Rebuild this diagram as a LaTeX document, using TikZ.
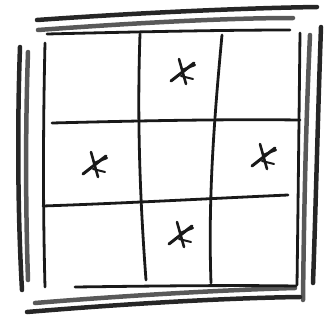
\documentclass[tikz,border=0pt]{standalone}
\usepackage{tikz}

\tikzset{
  pen/.style={line width=2.8pt, line cap=round, black!90},
  frame/.style={line width=4.5pt, line cap=round, black!85},
  scribble/.pic={
    \draw[pen, line width=3pt] (-12,9) -- (11,-9);
    \draw[pen, line width=2.6pt] (-4,-13) -- (3,12);
    \draw[pen, line width=2.2pt] (-1,-2) -- (12,-7);
    \draw[pen, line width=2pt] (-2,4) -- (10,7);
  }
}

\begin{document}
\begin{tikzpicture}[x=1pt, y=-1pt]
  \useasboundingbox (0,0) rectangle (334,327);
  % outer frame
  \draw[frame] (37,20) .. controls (150,12) and (250,8) .. (317,7);
  \draw[frame, black!65] (38,30) .. controls (120,24) and (220,18) .. (293,18);
  \draw[frame] (20,47) .. controls (17,130) and (18,220) .. (22,290);
  \draw[frame, black!65] (28,52) .. controls (25,140) and (26,220) .. (28,280);
  \draw[frame] (321,27) .. controls (318,110) and (316,200) .. (313,283);
  \draw[frame, black!65] (310,35) .. controls (306,120) and (304,210) .. (303,300);
  \draw[frame] (27,312) .. controls (110,305) and (220,298) .. (300,297);
  \draw[frame, black!65] (35,303) .. controls (120,296) and (220,290) .. (295,288);
  % inner frame
  \draw[pen] (47,34) .. controls (130,32) and (220,30) .. (290,30);
  \draw[pen] (45,43) .. controls (43,130) and (43,210) .. (45,287);
  \draw[pen] (300,33) .. controls (299,120) and (298,210) .. (297,285);
  \draw[pen] (75,287) .. controls (150,286) and (230,285) .. (296,286);
  % grid
  \draw[pen] (140,34) .. controls (137,120) and (140,200) .. (146,280);
  \draw[pen] (222,35) .. controls (214,120) and (208,200) .. (211,283);
  \draw[pen] (52,123) .. controls (130,121) and (220,119) .. (300,120);
  \draw[pen] (43,206) .. controls (130,203) and (220,198) .. (288,195);
  % marks
  \pic at (183,72) {scribble};
  \pic at (95,165) {scribble};
  \pic at (264,157) {scribble};
  \pic at (181,235) {scribble};
\end{tikzpicture}
\end{document}
